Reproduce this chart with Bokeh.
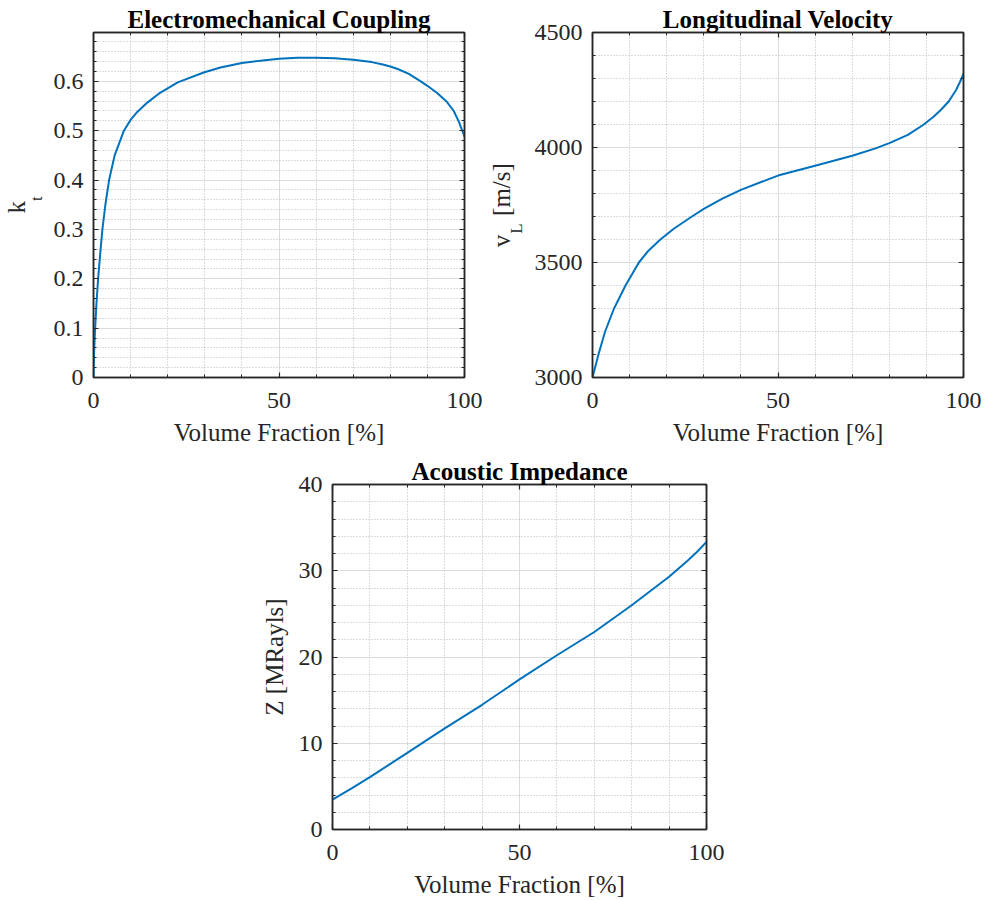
from bokeh.plotting import figure
from bokeh.models import FixedTicker, LinearAxis, Range1d, CustomJSTickFormatter, Title
from bokeh.layouts import column, row
from bokeh.embed import file_html
from bokeh.resources import INLINE

# ---- data ----
vf_kt = [0, 0.15, 0.44, 0.8, 1.24, 1.8, 2.4, 3.2, 4.2, 5.7, 8.2, 10, 11.8, 14.5, 17.6,
         22.7, 29.7, 34.2, 40, 45, 50, 55, 60, 65, 70, 75, 78, 80, 82, 85, 88.2, 90, 92.7,
         95.3, 97.1, 98.5, 100]
kt = [0, 0.05, 0.10, 0.15, 0.20, 0.25, 0.30, 0.35, 0.40, 0.45, 0.50, 0.522, 0.538, 0.557,
      0.575, 0.598, 0.618, 0.628, 0.637, 0.642, 0.646, 0.648, 0.648, 0.647, 0.644, 0.639,
      0.634, 0.630, 0.625, 0.615, 0.600, 0.591, 0.576, 0.558, 0.54, 0.518, 0.488]

vf_vl = [0, 1.6, 3.4, 5.8, 8.9, 12.5, 15, 18.3, 22, 26.8, 30, 35, 40, 50, 60, 70, 76.3, 80,
         85, 89.3, 92, 94, 96, 98, 99.2, 100]
vl = [3000, 3100, 3200, 3300, 3400, 3500, 3550, 3600, 3648, 3700, 3733, 3778, 3816, 3878,
      3921, 3964, 3996, 4019, 4055, 4100, 4135, 4165, 4200, 4250, 4290, 4321]

vf_z = [0, 5, 10, 20, 30, 40, 50, 60, 70, 80, 90, 95, 97.5, 100]
z = [3.46, 4.75, 6.08, 8.88, 11.73, 14.46, 17.4, 20.2, 22.9, 26.0, 29.3, 31.2, 32.2, 33.35]

x_major = [0, 50, 100]
x_minor = [10, 20, 30, 40, 60, 70, 80, 90]
kt_major = [0, 0.1, 0.2, 0.3, 0.4, 0.5, 0.6]
kt_minor = [0.02, 0.04, 0.06, 0.08, 0.12, 0.14, 0.16, 0.18, 0.22, 0.24, 0.26, 0.28,
            0.32, 0.34, 0.36, 0.38, 0.42, 0.44, 0.46, 0.48, 0.52, 0.54, 0.56, 0.58,
            0.62, 0.64, 0.66, 0.68]
vl_major = [3000, 3500, 4000, 4500]
vl_minor = [3100, 3200, 3300, 3400, 3600, 3700, 3800, 3900, 4100, 4200, 4300, 4400]
z_major = [0, 10, 20, 30, 40]
z_minor = [2, 4, 6, 8, 12, 14, 16, 18, 22, 24, 26, 28, 32, 34, 36, 38]

FONT = "Liberation Serif"
AX = "#262626"
BLUE = "#0072BD"
MAJ_GRID = "#dcdcdc"
MIN_GRID = "#b8b8b8"


def style_axis(ax):
    ax.axis_line_color = AX
    ax.axis_line_width = 1.5
    ax.major_tick_in = 5
    ax.major_tick_out = 0
    ax.minor_tick_in = 3
    ax.minor_tick_out = 0
    ax.major_tick_line_color = AX
    ax.minor_tick_line_color = AX
    ax.major_tick_line_width = 1.2
    ax.minor_tick_line_width = 1


def make_fig(xs, ys, yr, yt, ym, fw, bl, br, bt, bb, title):
    p = figure(frame_width=fw, frame_height=345,
               x_range=Range1d(0, 100), y_range=Range1d(*yr),
               output_backend="svg", toolbar_location=None,
               min_border_left=bl, min_border_right=br,
               min_border_top=bt, min_border_bottom=bb)
    p.background_fill_color = "white"
    p.border_fill_color = "white"
    p.outline_line_color = AX
    p.outline_line_width = 1.5

    p.title.text = title
    p.title.text_font = FONT
    p.title.text_font_size = "25px"
    p.title.text_font_style = "bold"
    p.title.text_color = "black"
    p.title.align = "center"
    p.title.standoff = 0

    xt = FixedTicker(ticks=x_major, minor_ticks=x_minor)
    ytk = FixedTicker(ticks=yt, minor_ticks=ym)
    p.xaxis.ticker = xt
    p.yaxis.ticker = ytk
    p.xgrid.ticker = xt
    p.ygrid.ticker = ytk
    for ax in (p.xaxis[0], p.yaxis[0]):
        style_axis(ax)
        ax.major_label_text_font = FONT
        ax.major_label_text_font_size = "24px"
        ax.major_label_text_color = AX
        ax.axis_label_text_font = FONT
        ax.axis_label_text_font_size = "25px"
        ax.axis_label_text_font_style = "normal"
        ax.axis_label_text_color = AX
    p.xaxis[0].major_label_standoff = 15
    p.yaxis[0].major_label_standoff = 10
    p.xaxis[0].axis_label = "Volume Fraction [%]"
    p.xaxis[0].axis_label_standoff = 8

    for g in (p.xgrid[0], p.ygrid[0]):
        g.grid_line_color = MAJ_GRID
        g.grid_line_width = 1
        g.minor_grid_line_color = MIN_GRID
        g.minor_grid_line_dash = "1 2"
        g.minor_grid_line_width = 1

    # mirrored ticks on top and right, as in the original box
    for loc, tk in (("above", xt), ("right", ytk)):
        ax = LinearAxis(ticker=tk, formatter=CustomJSTickFormatter(code="return ''"))
        style_axis(ax)
        ax.major_label_text_font_size = "1px"
        ax.major_label_standoff = 0
        p.add_layout(ax, loc)

    p.line(xs, ys, line_color=BLUE, line_width=2)
    return p


def side_title(text, size, offset, standoff):
    return Title(text=text, text_font=FONT, text_font_size=size, text_font_style="normal",
                 text_color=AX, align="left", offset=offset, standoff=standoff,
                 vertical_align="bottom")


# ---- panel 1 ----
p1 = make_fig(vf_kt, kt, (0, 0.699), kt_major, kt_minor, 371, 93, 22, 32, 75,
              "Electromechanical Coupling")
p1.add_layout(side_title("t", "17px", 176.5, 10), "left")
p1.add_layout(side_title("k", "25px", 164, -20), "left")

# ---- panel 2 ----
p2 = make_fig(vf_vl, vl, (3000, 4500), vl_major, vl_minor, 371, 106, 22, 32, 75,
              "Longitudinal Velocity")
p2.add_layout(side_title("L", "17px", 143.7, 12), "left")
p2.add_layout(side_title("v\u00a0\u00a0\u00a0[m/s]", "25px", 130.3, -32), "left")

# ---- panel 3 ----
p3 = make_fig(vf_z, z, (0, 40), z_major, z_minor, 374, 332, 30, 32, 71,
              "Acoustic Impedance")
p3.yaxis[0].axis_label = "Z [MRayls]"
p3.yaxis[0].axis_label_standoff = 8

layout = column(row(p1, p2), p3)
open("out.html", "w").write(file_html(layout, INLINE))
